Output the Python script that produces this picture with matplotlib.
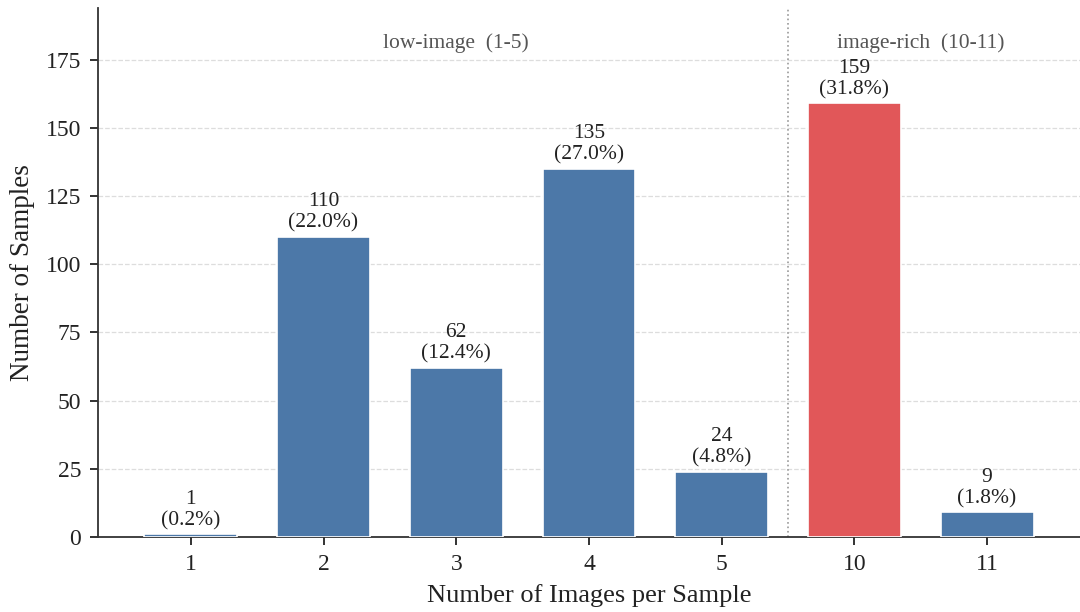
import matplotlib
matplotlib.use("Agg")
import matplotlib.pyplot as plt
import numpy as np

plt.rcParams['font.family'] = ['Liberation Serif', 'DejaVu Serif']

categories = ["1", "2", "3", "4", "5", "10", "11"]
counts = [1, 110, 62, 135, 24, 159, 9]
total = 500
highlight = "10"
region_labels = ["low-image  (1-5)", "image-rich  (10-11)"]

blue = "#4C78A8"
red = "#E15759"

fig = plt.figure(figsize=(10.8, 6.12), dpi=100)
ax = fig.add_axes([0.0907, 0.1225, 0.9093, 0.8645])

x = np.arange(len(categories))
colors = [red if c == highlight else blue for c in categories]
bars = ax.bar(x, counts, width=0.7, color=colors, edgecolor="white", linewidth=1.2, zorder=3)

for xi, c in zip(x, counts):
    ax.annotate(f"{c}\n({c / total * 100:.1f}%)", (xi, c), xytext=(0, 3),
                textcoords="offset points", ha="center", va="bottom",
                fontsize=15.5, color="#222222", linespacing=1.15, zorder=4)

ymax = max(counts) * 1.22
ax.set_ylim(0, ymax)
ax.set_xlim(-0.7, len(categories) - 0.3)
ax.set_xticks(x)
ax.set_xticklabels(categories)
ax.set_yticks(np.arange(0, 176, 25))

ax.axvline(4.5, color="#999999", linestyle=":", linewidth=1.2, zorder=2)
ax.text(2, 181, region_labels[0], ha="center", va="center", fontsize=15.5, color="#555555")
ax.text(5.5, 181, region_labels[1], ha="center", va="center", fontsize=15.5, color="#555555")

ax.yaxis.grid(True, linestyle="--", color="#dddddd", linewidth=0.9, zorder=0)
ax.set_axisbelow(True)
for s in ["top", "right"]:
    ax.spines[s].set_visible(False)
for s in ["left", "bottom"]:
    ax.spines[s].set_color("#333333")
    ax.spines[s].set_linewidth(1.3)
ax.tick_params(axis="both", labelsize=17, colors="#222222", length=6, width=1.3, pad=6)

ax.set_xlabel("Number of Images per Sample", fontsize=19, color="#222222", labelpad=7)
ax.set_ylabel("Number of Samples", fontsize=19.5, color="#222222", labelpad=8)

fig.savefig("out.png", dpi=100)
